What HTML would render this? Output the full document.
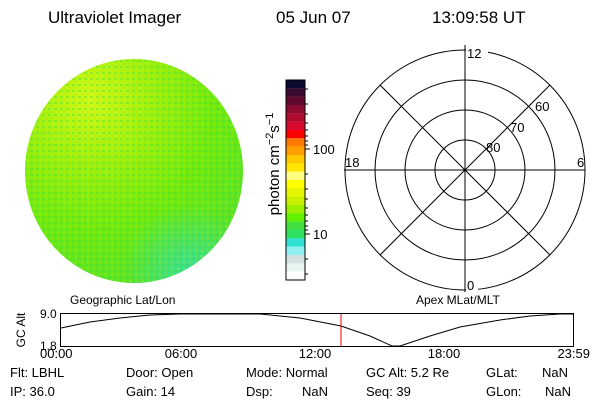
<!DOCTYPE html>
<html><head><style>
body{margin:0;background:#fff;}
svg text{font-family:"Liberation Sans",sans-serif;fill:#000;}
</style></head><body>
<svg width="600" height="400" xmlns="http://www.w3.org/2000/svg">
<defs>
<radialGradient id="g1" cx="0.3" cy="0.18" r="0.95">
<stop offset="0" stop-color="#d0f818"/>
<stop offset="0.3" stop-color="#a0f010"/>
<stop offset="0.6" stop-color="#70ea10"/>
<stop offset="1" stop-color="#50e030"/>
</radialGradient>
<radialGradient id="g2" cx="0.75" cy="0.95" r="0.3">
<stop offset="0" stop-color="#38e0a0"/>
<stop offset="1" stop-color="#38e0a0" stop-opacity="0"/>
</radialGradient>
<pattern id="pn" width="6" height="6" patternUnits="userSpaceOnUse">
<rect x="0" y="0" width="3" height="2" fill="#40d830" opacity="0.35"/>
<rect x="3" y="3" width="2" height="3" fill="#c0f000" opacity="0.3"/>
</pattern>
<clipPath id="cp"><rect x="20" y="59" width="240" height="230"/></clipPath>
</defs>
<text x="48" y="23" font-size="17">Ultraviolet Imager</text>
<text x="276" y="23" font-size="17">05 Jun 07</text>
<text x="432" y="23" font-size="17">13:09:58 UT</text>
<g clip-path="url(#cp)">
<ellipse cx="134" cy="171" rx="109" ry="112" fill="url(#g1)"/>
<ellipse cx="134" cy="171" rx="109" ry="112" fill="url(#g2)"/>
<ellipse cx="134" cy="171" rx="109" ry="112" fill="url(#pn)"/>
</g>
<g>
<rect x="286" y="80" width="19" height="8.4" fill="#0a0a30"/>
<rect x="286" y="88.3" width="19" height="8.4" fill="#3a0a30"/>
<rect x="286" y="96.6" width="19" height="8.4" fill="#600a30"/>
<rect x="286" y="105" width="19" height="8.4" fill="#8a0a30"/>
<rect x="286" y="113.3" width="19" height="8.4" fill="#b00a30"/>
<rect x="286" y="121.6" width="19" height="8.4" fill="#d80a30"/>
<rect x="286" y="130" width="19" height="8.4" fill="#ff0000"/>
<rect x="286" y="138.3" width="19" height="8.4" fill="#ff7a00"/>
<rect x="286" y="146.6" width="19" height="8.4" fill="#ffa000"/>
<rect x="286" y="155" width="19" height="8.4" fill="#ffc800"/>
<rect x="286" y="163.3" width="19" height="8.4" fill="#ffe600"/>
<rect x="286" y="171.6" width="19" height="8.4" fill="#ffff80"/>
<rect x="286" y="180" width="19" height="8.4" fill="#ffff00"/>
<rect x="286" y="188.3" width="19" height="8.4" fill="#e6f500"/>
<rect x="286" y="196.6" width="19" height="8.4" fill="#c8f000"/>
<rect x="286" y="205" width="19" height="8.4" fill="#9af000"/>
<rect x="286" y="213.3" width="19" height="8.4" fill="#60f000"/>
<rect x="286" y="221.6" width="19" height="8.4" fill="#40e040"/>
<rect x="286" y="230" width="19" height="8.4" fill="#30e060"/>
<rect x="286" y="238.3" width="19" height="8.4" fill="#30e0d0"/>
<rect x="286" y="246.6" width="19" height="8.4" fill="#90f0f0"/>
<rect x="286" y="255" width="19" height="8.4" fill="#d0e0e0"/>
<rect x="286" y="263.3" width="19" height="8.4" fill="#e8f4ee"/>
<rect x="286" y="271.6" width="19" height="8.4" fill="#ffffff"/>
<rect x="286" y="80" width="19" height="200" fill="none" stroke="#000" stroke-width="1"/>
<path d="M305 149h5M305 234h5M305 89h3M305 104h3M305 114h3M305 123h3M305 130h3M305 136h3M305 141h3M305 145h3M305 174h3M305 189h3M305 199h3M305 208h3M305 215h3M305 221h3M305 226h3M305 230h3M305 259h3M305 274h3" stroke="#000"/>
<text x="313" y="154" font-size="13">100</text>
<text x="313" y="239" font-size="13">10</text>
<text transform="translate(279,164) rotate(-90)" font-size="15" text-anchor="middle">photon cm<tspan dy="-6" font-size="11">−2</tspan><tspan dy="6">s</tspan><tspan dy="-6" font-size="11">−1</tspan></text>
</g>
<g fill="none" stroke="#000" stroke-width="1">
<circle cx="465" cy="170" r="120"/>
<circle cx="465" cy="170" r="90"/>
<circle cx="465" cy="170" r="60"/>
<circle cx="465" cy="170" r="30"/>
<line x1="465" y1="45" x2="465" y2="292"/>
<line x1="344" y1="170" x2="585" y2="170"/>
<line x1="380" y1="85" x2="550" y2="255"/>
<line x1="550" y1="85" x2="380" y2="255"/>
</g>
<rect x="466" y="46" width="22" height="14" fill="#fff"/>
<text x="467" y="58" font-size="13">12</text>
<rect x="466" y="278" width="12" height="14" fill="#fff"/>
<text x="467" y="290" font-size="13">0</text>
<text x="345" y="167" font-size="13">18</text>
<text x="577" y="167" font-size="13">6</text>
<text x="486" y="152" font-size="13">80</text>
<text x="510" y="132" font-size="13">70</text>
<text x="535" y="111" font-size="13">60</text>
<text x="70" y="304" font-size="12">Geographic Lat/Lon</text>
<text x="416" y="304" font-size="12">Apex MLat/MLT</text>
<rect x="60.5" y="313.5" width="513" height="33" fill="none" stroke="#000"/>
<polyline fill="none" stroke="#000" points="61,328 90,322 120,318 150,315 180,314 260,314 300,318 341,326 370,336 392,346 400,346 430,336 460,327 500,320 530,316 560,314 573,314"/>
<line x1="341" y1="314" x2="341" y2="346" stroke="#e00" stroke-width="1"/>
<text x="40" y="318" font-size="12">9.0</text>
<text x="40" y="350" font-size="12">1.8</text>
<text transform="translate(25,330) rotate(-90)" font-size="12" text-anchor="middle">GC Alt</text>
<g font-size="13">
<text x="40" y="358">00:00</text>
<text x="181" y="358" text-anchor="middle">06:00</text>
<text x="315" y="358" text-anchor="middle">12:00</text>
<text x="444" y="358" text-anchor="middle">18:00</text>
<text x="590" y="358" text-anchor="end">23:59</text>
<text x="10" y="377">Flt: LBHL</text>
<text x="126" y="377">Door: Open</text>
<text x="246" y="377">Mode: Normal</text>
<text x="366" y="377">GC Alt: 5.2 Re</text>
<text x="486" y="377">GLat:</text>
<text x="542" y="377">NaN</text>
<text x="10" y="396">IP: 36.0</text>
<text x="126" y="396">Gain: 14</text>
<text x="246" y="396">Dsp:</text>
<text x="302" y="396">NaN</text>
<text x="366" y="396">Seq: 39</text>
<text x="486" y="396">GLon:</text>
<text x="545" y="396">NaN</text>
</g>
</svg>
</body></html>
